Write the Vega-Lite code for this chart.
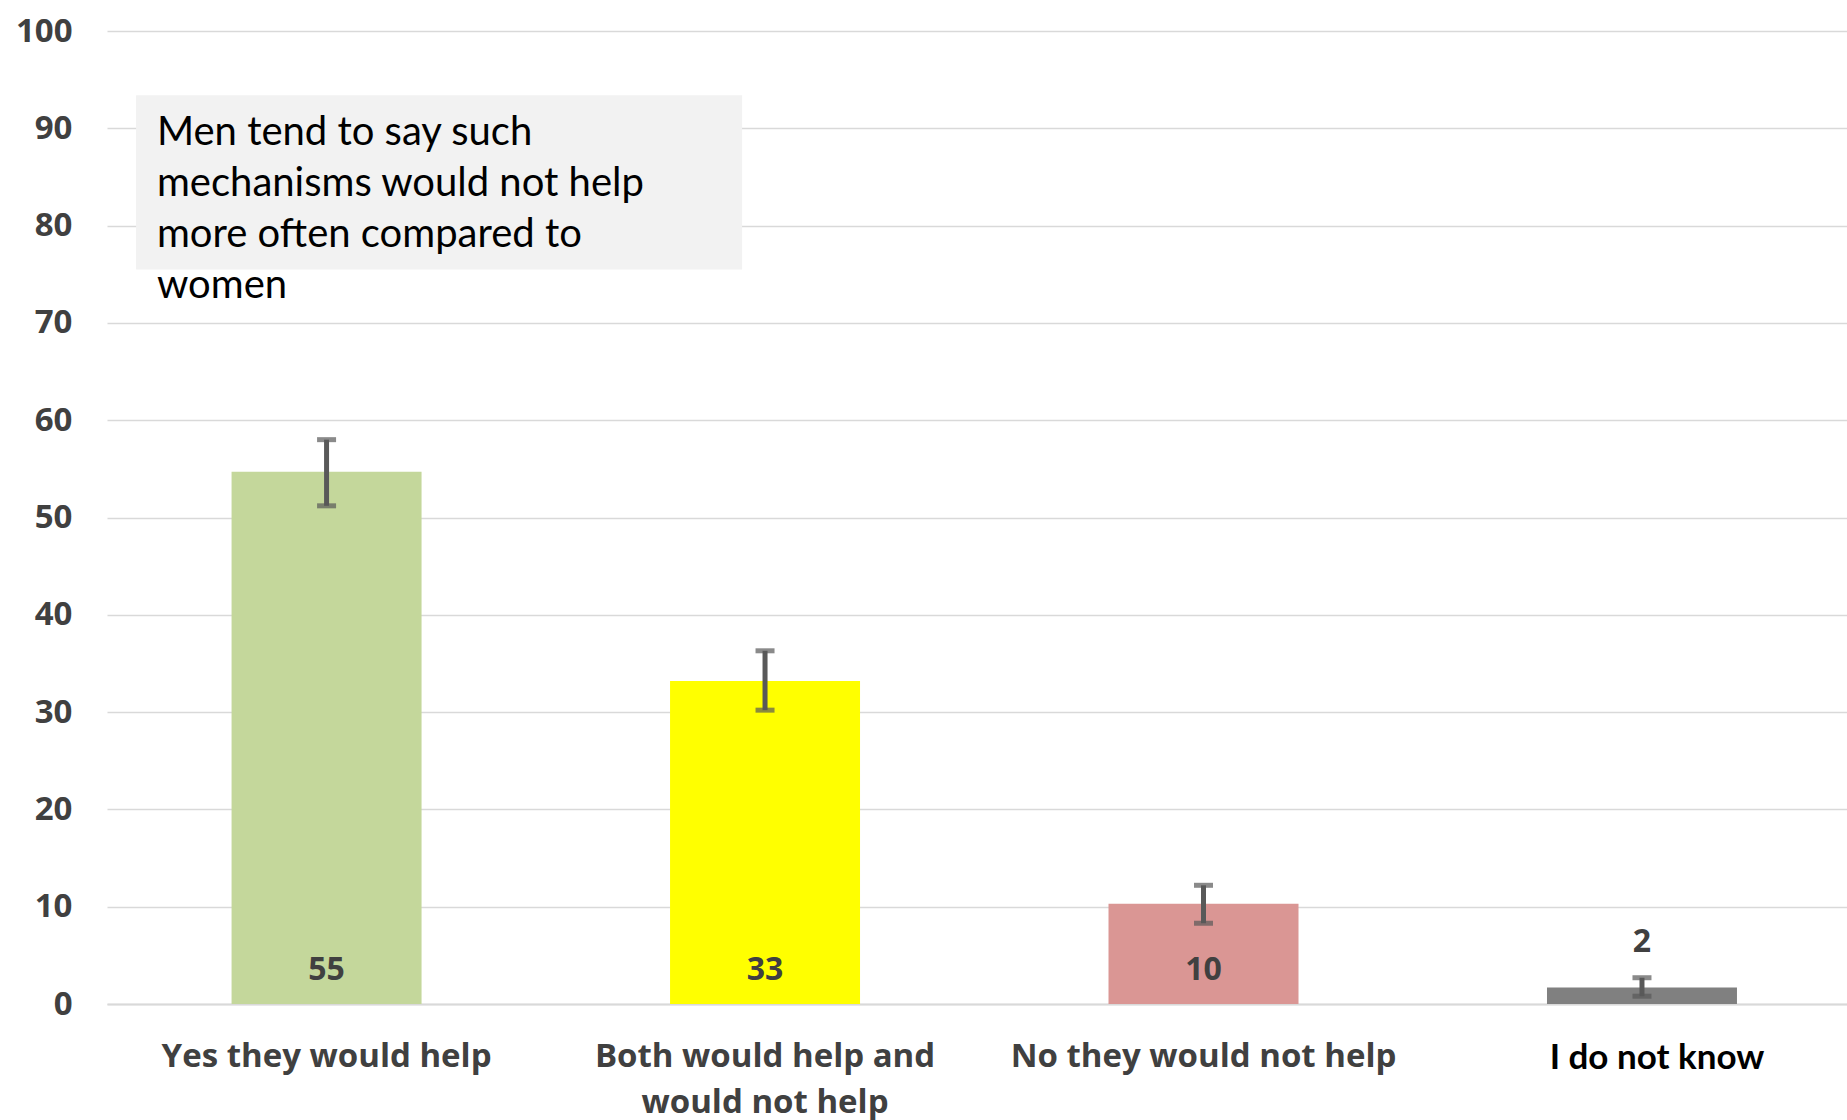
{
  "$schema": "https://vega.github.io/schema/vega-lite/v6.json",
  "autosize": {"type": "none"},
  "padding": {"left": 107, "top": 31, "right": 0, "bottom": 116},
  "width": 1740,
  "height": 973,
  "background": "white",
  "config": {"view": {"stroke": null}},
  "layer": [
    {
      "data": {"values": [
        {"answer": "Yes they would help", "value": 54.7, "lo": 51.2, "hi": 58.0},
        {"answer": "Both would help and would not help", "value": 33.2, "lo": 30.2, "hi": 36.3},
        {"answer": "No they would not help", "value": 10.3, "lo": 8.3, "hi": 12.2},
        {"answer": "I do not know", "value": 1.7, "lo": 0.8, "hi": 2.7}
      ]},
      "encoding": {
        "x": {
          "field": "answer", "type": "nominal", "sort": null,
          "scale": {"paddingInner": 0.5667, "paddingOuter": 0.2675, "align": 0.531},
          "axis": {
            "title": null, "labelAngle": 0, "ticks": false,
            "domainColor": "#D9D9D9", "domainWidth": 2,
            "labelPadding": 36, "labelLimit": 600,
            "labelFont": {"condition": {"test": "datum.value == 'I do not know'", "value": "Lato"}, "value": "Open Sans"},
            "labelFontSize": {"condition": {"test": "datum.value == 'I do not know'", "value": 35}, "value": 33},
            "labelOffset": {"condition": {"test": "datum.value == 'I do not know'", "value": 15}, "value": 0},
            "labelFontWeight": "bold",
            "labelColor": {"condition": {"test": "datum.value == 'I do not know'", "value": "#000000"}, "value": "#404040"},
            "labelLineHeight": 46,
            "labelExpr": "datum.label == 'Both would help and would not help' ? ['Both would help and', 'would not help'] : datum.label"
          }
        }
      },
      "layer": [
        {
          "mark": {"type": "bar"},
          "encoding": {
            "y": {
              "field": "value", "type": "quantitative",
              "scale": {"domain": [0, 100]},
              "axis": {
                "title": null, "values": [0,10,20,30,40,50,60,70,80,90,100],
                "ticks": false, "domain": false,
                "gridColor": "#D9D9D9", "gridWidth": 1.5,
                "labelPadding": 35, "labelFont": "Open Sans", "labelFontWeight": "bold",
                "labelFontSize": 33, "labelColor": "#404040"
              }
            },
            "color": {
              "field": "answer", "type": "nominal", "legend": null,
              "scale": {
                "domain": ["Yes they would help", "Both would help and would not help", "No they would not help", "I do not know"],
                "range": ["#C4D79B", "#FFFF00", "#DA9694", "#808080"]
              }
            }
          }
        },
        {
          "mark": {"type": "rule", "color": "#595959", "strokeWidth": 5},
          "encoding": {
            "y": {"field": "lo", "type": "quantitative"},
            "y2": {"field": "hi"}
          }
        },
        {
          "mark": {"type": "tick", "color": "#595959", "size": 19, "thickness": 5},
          "encoding": {"y": {"field": "lo", "type": "quantitative"}}
        },
        {
          "mark": {"type": "tick", "color": "#595959", "size": 19, "thickness": 5},
          "encoding": {"y": {"field": "hi", "type": "quantitative"}}
        },
        {
          "transform": [{"filter": "datum.value >= 5"}],
          "mark": {"type": "text", "font": "Open Sans", "fontWeight": "bold", "fontSize": 32, "color": "#404040", "baseline": "middle", "dy": -34},
          "encoding": {
            "y": {"datum": 0, "type": "quantitative"},
            "text": {"field": "value", "type": "quantitative", "format": ".0f"}
          }
        },
        {
          "transform": [{"filter": "datum.value < 5"}],
          "mark": {"type": "text", "font": "Open Sans", "fontWeight": "bold", "fontSize": 32, "color": "#404040", "baseline": "middle", "dy": -62},
          "encoding": {
            "y": {"datum": 0, "type": "quantitative"},
            "text": {"field": "value", "type": "quantitative", "format": ".0f"}
          }
        }
      ]
    },
    {
      "data": {"values": [{"note": "Men tend to say such\nmechanisms would not help\nmore often compared to\nwomen"}]},
      "layer": [
        {
          "mark": {"type": "rect", "color": "#F2F2F2"},
          "encoding": {
            "x": {"datum": 1.67, "type": "quantitative", "scale": {"domain": [0, 100]}, "axis": null},
            "x2": {"datum": 36.5},
            "y": {"datum": 75.5, "type": "quantitative"},
            "y2": {"datum": 93.4}
          }
        },
        {
          "mark": {"type": "text", "font": "Lato", "fontSize": 40, "color": "#000000", "align": "left", "baseline": "alphabetic", "lineBreak": "\n", "lineHeight": 51},
          "encoding": {
            "x": {"datum": 2.87, "type": "quantitative", "scale": {"domain": [0, 100]}, "axis": null},
            "y": {"datum": 88.3, "type": "quantitative"},
            "text": {"field": "note", "type": "nominal"}
          }
        }
      ]
    }
  ],
  "resolve": {"scale": {"x": "independent"}, "axis": {"x": "independent"}}
}
